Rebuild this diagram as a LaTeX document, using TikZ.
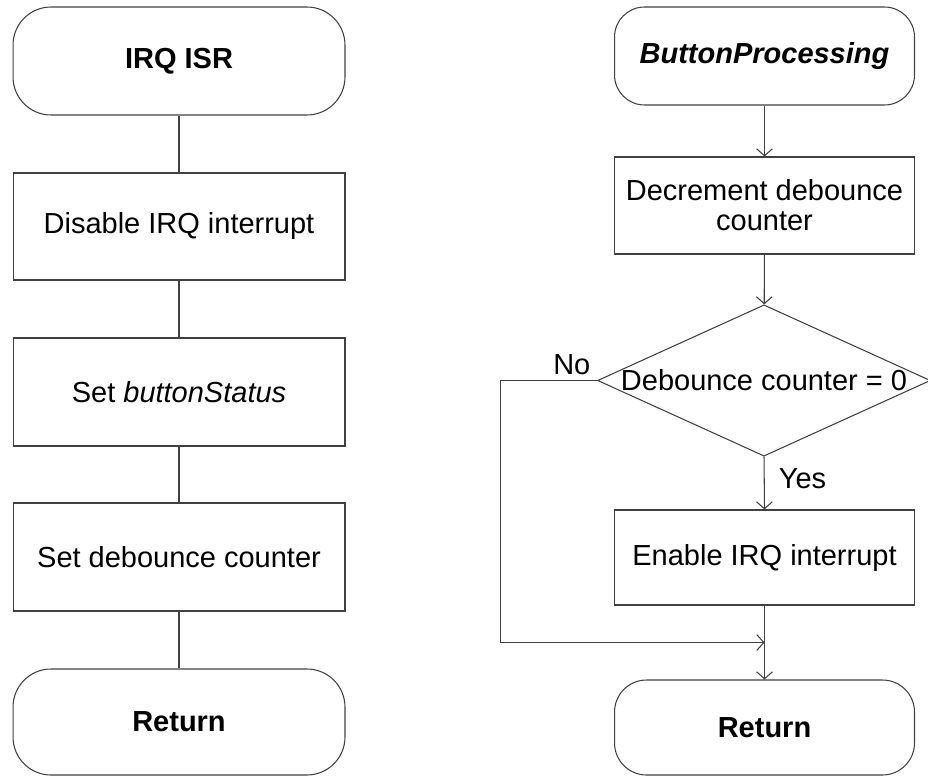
\documentclass[tikz,border=0pt]{standalone}
\usepackage{fontspec}
\setmainfont{Liberation Sans}
\usetikzlibrary{arrows.meta,shapes.geometric,positioning,calc}

\begin{document}
\begin{tikzpicture}[
    x=0.02cm, y=-0.02cm,
    every node/.style={font=\fontsize{16.5pt}{17pt}\selectfont},
    term/.style={draw=black!75, line width=0.6pt, rounded corners=0.76cm, align=center},
    proc/.style={draw=black!75, line width=0.6pt, align=center},
    decision/.style={draw=black!75, line width=0.6pt, diamond, aspect=2.2, inner sep=0pt,
        minimum width=6.56cm, minimum height=2.98cm},
    link/.style={draw=black!75, line width=0.6pt},
    arr/.style={link, -{Straight Barb[length=4pt,width=9pt]}}
]
\useasboundingbox (0,0) rectangle (928,776);

% IRQ service routine
\node[term, minimum width=6.64cm, minimum height=2.16cm] (irq) at (179,61) {\textbf{IRQ ISR}};
\node[proc, minimum width=6.64cm, minimum height=2.14cm] (dis) at (179,226.5) {Disable IRQ interrupt};
\node[proc, minimum width=6.64cm, minimum height=2.16cm] (sst) at (179,392) {Set \textit{buttonStatus}};
\node[proc, minimum width=6.64cm, minimum height=2.16cm] (scnt) at (179,557) {Set debounce counter};
\node[term, minimum width=6.64cm, minimum height=2.12cm] (retL) at (179,722) {\textbf{Return}};

\draw[link] (irq) -- (dis);
\draw[link] (dis) -- (sst);
\draw[link] (sst) -- (scnt);
\draw[link] (scnt) -- (retL);

% button processing
\node[term, rounded corners=0.6cm, minimum width=6cm, minimum height=1.96cm] (bp) at (764.5,56) {\textbf{\textit{ButtonProcessing}}};
\node[proc, minimum width=6cm, minimum height=1.94cm] (dec) at (764.5,205.5) {Decrement debounce\\counter};
\node[decision] (dia) at (764,380.5) {Debounce counter = 0};
\node[proc, minimum width=6cm, minimum height=1.9cm] (en) at (764.5,557.5) {Enable IRQ interrupt};
\node[term, rounded corners=0.64cm, minimum width=6cm, minimum height=1.9cm] (retR) at (764.5,727.5) {\textbf{Return}};
\coordinate (merge) at ($(en.south)!0.5!(retR.north)$);

\draw[arr] (bp) -- (dec);
\draw[arr] (dec) -- (dia);
\draw[arr] (dia.south) -- node[right, pos=0.42, inner sep=8pt] {Yes} (en.north);
\draw[arr] (en) -- (retR);
\draw[arr] (dia.west) -- node[above, pos=0.26, inner sep=3pt] {No} ++(-97,0) |- (merge);
\end{tikzpicture}
\end{document}
